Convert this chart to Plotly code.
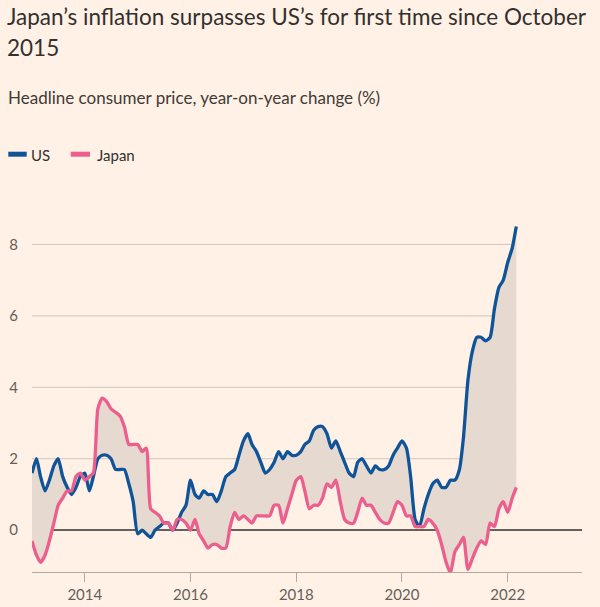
import pandas as pd
import plotly.graph_objects as go

# Monthly data, Jan 2013 - Mar 2022
dates = pd.date_range("2013-01-01", "2022-03-01", freq="MS")

us = [
    1.6, 2.0, 1.5, 1.1, 1.4, 1.8, 2.0, 1.5, 1.2, 1.0, 1.2, 1.5,   # 2013
    1.6, 1.1, 1.5, 2.0, 2.1, 2.1, 2.0, 1.7, 1.7, 1.7, 1.3, 0.8,   # 2014
    -0.1, 0.0, -0.1, -0.2, 0.0, 0.1, 0.2, 0.2, 0.0, 0.2, 0.5, 0.7,  # 2015
    1.4, 1.0, 0.9, 1.1, 1.0, 1.0, 0.8, 1.1, 1.5, 1.6, 1.7, 2.1,   # 2016
    2.5, 2.7, 2.4, 2.2, 1.9, 1.6, 1.7, 1.9, 2.2, 2.0, 2.2, 2.1,   # 2017
    2.1, 2.2, 2.4, 2.5, 2.8, 2.9, 2.9, 2.7, 2.3, 2.5, 2.2, 1.9,   # 2018
    1.6, 1.5, 1.9, 2.0, 1.8, 1.6, 1.8, 1.7, 1.7, 1.8, 2.1, 2.3,   # 2019
    2.5, 2.3, 1.5, 0.3, 0.1, 0.6, 1.0, 1.3, 1.4, 1.2, 1.2, 1.4,   # 2020
    1.4, 1.7, 2.6, 4.2, 5.0, 5.4, 5.4, 5.3, 5.4, 6.2, 6.8, 7.0,   # 2021
    7.5, 7.9, 8.5,                                                # 2022
]

japan = [
    -0.3, -0.7, -0.9, -0.7, -0.3, 0.2, 0.7, 0.9, 1.1, 1.1, 1.5, 1.6,  # 2013
    1.4, 1.5, 1.6, 3.4, 3.7, 3.6, 3.4, 3.3, 3.2, 2.9, 2.4, 2.4,       # 2014
    2.4, 2.2, 2.3, 0.6, 0.5, 0.4, 0.2, 0.2, 0.0, 0.3, 0.3, 0.2,       # 2015
    0.0, 0.3, -0.1, -0.3, -0.5, -0.4, -0.4, -0.5, -0.5, 0.1, 0.5, 0.3,  # 2016
    0.4, 0.3, 0.2, 0.4, 0.4, 0.4, 0.4, 0.7, 0.7, 0.2, 0.6, 1.0,       # 2017
    1.4, 1.5, 1.1, 0.6, 0.7, 0.7, 0.9, 1.3, 1.2, 1.4, 0.8, 0.3,       # 2018
    0.2, 0.2, 0.5, 0.9, 0.7, 0.7, 0.5, 0.3, 0.2, 0.2, 0.5, 0.8,       # 2019
    0.7, 0.4, 0.4, 0.1, 0.1, 0.1, 0.3, 0.2, 0.0, -0.4, -0.9, -1.2,    # 2020
    -0.6, -0.4, -0.2, -1.1, -0.8, -0.5, -0.3, -0.4, 0.2, 0.1, 0.6, 0.8,  # 2021
    0.5, 0.9, 1.2,                                                    # 2022
]

y_ticks = [0, 2, 4, 6, 8]
x_ticks = ["2014-01-01", "2016-01-01", "2018-01-01", "2020-01-01", "2022-01-01"]
x_tick_labels = ["2014", "2016", "2018", "2020", "2022"]

title_lines = ["Japan’s inflation surpasses US’s for first time since October", "2015"]
subtitle = "Headline consumer price, year-on-year change (%)"
series_names = ["US", "Japan"]

BG = "#FFF1E5"
US_C = "#0F5499"
JP_C = "#EB5E8D"
FILL_C = "#E5D9D0"
GRID_C = "#D0C6BE"
AXIS_C = "#B3A9A0"
ZERO_C = "#66605C"
TEXT_C = "#33302E"
TICK_C = "#66605C"
FONT = "Lato"

W, H = 600, 607
ML, MR, MT, MB = 32, 18, 223, 35
PW, PH = W - ML - MR, H - MT - MB


def px_x(px):
    return (px - ML) / PW


def px_y(py):
    return (H - MB - py) / PH


fig = go.Figure()

SPL = dict(shape="spline", smoothing=0.6)

# fill between the two series
fig.add_trace(go.Scatter(x=dates, y=us, mode="lines", line=dict(width=0, **SPL),
                         showlegend=False, hoverinfo="skip"))
fig.add_trace(go.Scatter(x=dates, y=japan, mode="lines", line=dict(width=0, **SPL),
                         fill="tonexty", fillcolor=FILL_C, showlegend=False, hoverinfo="skip"))
# lines
fig.add_trace(go.Scatter(x=dates, y=us, mode="lines", name=series_names[0],
                         line=dict(color=US_C, width=3.3, **SPL), showlegend=False))
fig.add_trace(go.Scatter(x=dates, y=japan, mode="lines", name=series_names[1],
                         line=dict(color=JP_C, width=3.3, **SPL), showlegend=False))

# gridlines ending at last data point
for v in y_ticks:
    if v == 0:
        continue
    fig.add_shape(type="line", xref="x", yref="y", x0=dates[0], x1=dates[-1], y0=v, y1=v,
                  line=dict(color=GRID_C, width=1), layer="below")

# legend (manual)
for (x0, x1, col, tx, name) in [(8.3, 26.7, US_C, 29.0, series_names[0]),
                                (70.7, 90, JP_C, 94.5, series_names[1])]:
    fig.add_shape(type="rect", xref="paper", yref="paper",
                  x0=px_x(x0), x1=px_x(x1), y0=px_y(156.7), y1=px_y(151.7),
                  fillcolor=col, line=dict(width=0))
    fig.add_annotation(xref="paper", yref="paper", x=px_x(tx), y=px_y(155), text=name,
                       showarrow=False, xanchor="left", yanchor="middle",
                       font=dict(family=FONT, size=15, color=TEXT_C))

# title (two lines) and subtitle
for line, cy in zip(title_lines, [16.5, 48]):
    fig.add_annotation(xref="paper", yref="paper", x=px_x(5), y=px_y(cy), text=line,
                       showarrow=False, xanchor="left", yanchor="middle",
                       font=dict(family=FONT, size=22.5, color=TEXT_C))
fig.add_annotation(xref="paper", yref="paper", x=px_x(6), y=px_y(97.5), text=subtitle,
                   showarrow=False, xanchor="left", yanchor="middle",
                   font=dict(family=FONT, size=17, color="#403B38"))

fig.update_layout(
    width=W, height=H,
    paper_bgcolor=BG, plot_bgcolor=BG,
    margin=dict(l=ML, r=MR, t=MT, b=MB, autoexpand=False),
    showlegend=False,
    font=dict(family=FONT, color=TICK_C),
)

fig.update_xaxes(
    type="date", automargin=False,
    range=["2013-01-01", "2023-05-29"],
    tickvals=x_ticks, ticktext=x_tick_labels,
    ticks="outside", ticklen=9, tickcolor=AXIS_C, tickwidth=1,
    showline=True, linecolor=AXIS_C, linewidth=1,
    showgrid=False, zeroline=False,
    tickfont=dict(family=FONT, size=15, color=TICK_C),
)
fig.update_yaxes(
    automargin=False,
    range=[-1.17, 8.6],
    tickvals=y_ticks,
    showgrid=False,
    zeroline=True, zerolinecolor=ZERO_C, zerolinewidth=1.5,
    showline=False, ticks="",
    ticklabelstandoff=13,
    tickfont=dict(family=FONT, size=15, color=TICK_C),
)

fig.write_html("out.html", config={"displayModeBar": False},
               post_script="document.body.style.margin='0';")
